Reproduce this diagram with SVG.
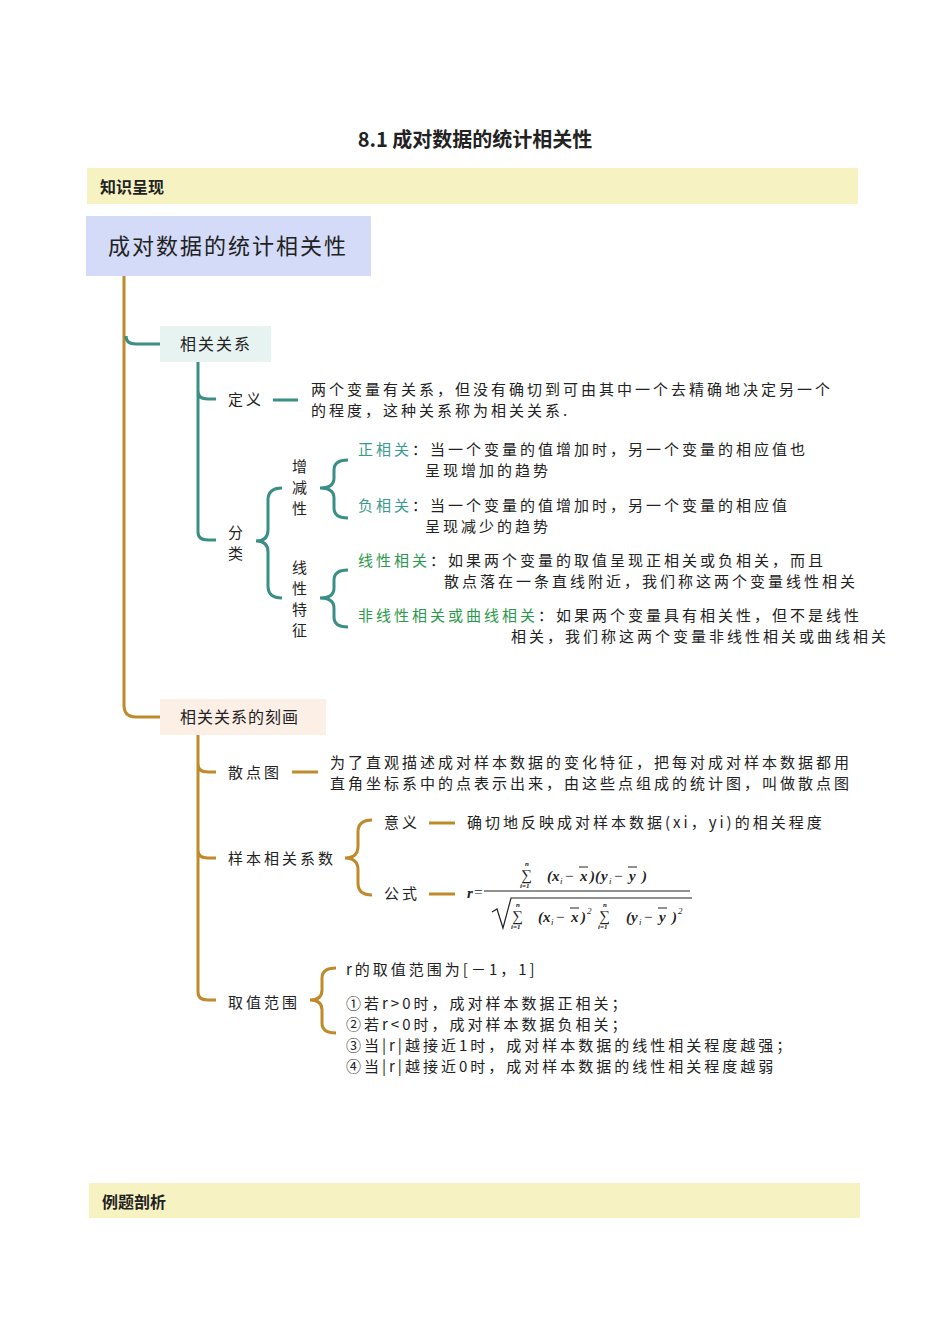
<svg xmlns="http://www.w3.org/2000/svg" width="950" height="1344" viewBox="0 0 950 1344">
<style>
text{font-family:"Noto Sans CJK SC","Noto Sans",sans-serif;fill:#222;}
.t{font-size:15px;letter-spacing:3px;}
.bar{fill:#f7f2c2;}
.teal{stroke:#3a8f85;stroke-width:3;fill:none;}
.gold{stroke:#bf8a2a;stroke-width:3;fill:none;}
.tl{fill:#3a9a8d;}
.gr{fill:#2a9a4a;}
.m{font-family:"Liberation Serif",serif;font-style:italic;font-weight:bold;font-size:15px;}
.mi{font-family:"Liberation Serif",serif;font-style:italic;font-size:9px;}
.ms{font-family:"Liberation Serif",serif;font-style:italic;font-weight:bold;font-size:7px;}
.sg{font-family:"Liberation Serif",serif;font-size:15px;}
.ol{stroke:#222;stroke-width:1;}
</style>
<rect width="950" height="1344" fill="#fff"/>
<text x="475" y="147" text-anchor="middle" font-size="20" font-weight="bold">8.1 成对数据的统计相关性</text>
<g id="bar1"><rect class="bar" x="87" y="168" width="771" height="36"/><text x="100" y="193" font-size="16" font-weight="bold">知识呈现</text></g>
<g id="connectors">
<path class="gold" d="M124 276 V705 Q124 717 136 717 H160"/>
<path class="teal" d="M126 336 Q126 344 136 344 H160" stroke-width="2.5"/>
<path class="teal" d="M198 362 V391 Q198 399 208 399 H216 M198 391 V532 Q198 540 208 540 H216"/>
<path class="teal" d="M273 400 H298"/>
<path class="teal" d="M282 488 Q268 488 268 500 V530 Q268 541 256 541 Q268 541 268 552 V586 Q268 598 282 598"/>
<path class="teal" d="M348 460 Q334 460 334 470 V478 Q334 488 320 488 Q334 488 334 498 V508 Q334 518 348 518"/>
<path class="teal" d="M348 570 Q334 570 334 580 V588 Q334 598 320 598 Q334 598 334 608 V617 Q334 627 348 627"/>
<path class="gold" d="M198 735 V764 Q198 772 208 772 H216 M198 764 V850 Q198 858 208 858 H216 M198 850 V992 Q198 1000 208 1000 H216"/>
<path class="gold" d="M292 772 H318"/>
<path class="gold" d="M372 820 Q358 820 358 832 V846 Q358 858 345 858 Q358 858 358 870 V883 Q358 895 372 895"/>
<path class="gold" d="M429 823 H455 M429 894 H455"/>
<path class="gold" d="M336 968 Q322 968 322 978 V990 Q322 1000 310 1000 Q322 1000 322 1010 V1023 Q322 1033 336 1033"/>
</g>
<g id="root"><rect x="86" y="216" width="285" height="60" fill="#d4dbf8"/><text x="108" y="254" font-size="22" letter-spacing="2">成对数据的统计相关性</text></g>
<g id="n1"><rect x="160" y="326" width="111" height="36" fill="#e6f3f1"/><text x="180" y="350" font-size="16" letter-spacing="2">相关关系</text></g>
<g id="def"><text class="t" x="228" y="405">定义</text>
<text class="t" x="311" y="395">两个变量有关系，但没有确切到可由其中一个去精确地决定另一个</text>
<text class="t" x="311" y="416">的程度，这种关系称为相关关系.</text></g>
<g id="cls"><text class="t" x="228" y="538">分</text><text class="t" x="228" y="559">类</text></g>
<g id="zjx"><text class="t" x="292" y="472">增</text><text class="t" x="292" y="493">减</text><text class="t" x="292" y="514">性</text></g>
<g id="xxtz"><text class="t" x="292" y="573">线</text><text class="t" x="292" y="594">性</text><text class="t" x="292" y="615">特</text><text class="t" x="292" y="636">征</text></g>
<g id="pos"><text class="t" x="358" y="455"><tspan class="tl">正相关</tspan>：当一个变量的值增加时，另一个变量的相应值也</text><text class="t" x="425" y="476">呈现增加的趋势</text></g>
<g id="neg"><text class="t" x="358" y="511"><tspan class="tl">负相关</tspan>：当一个变量的值增加时，另一个变量的相应值</text><text class="t" x="425" y="532">呈现减少的趋势</text></g>
<g id="lin"><text class="t" x="358" y="566"><tspan class="gr">线性相关</tspan>：如果两个变量的取值呈现正相关或负相关，而且</text><text class="t" x="444" y="587">散点落在一条直线附近，我们称这两个变量线性相关</text></g>
<g id="nonlin"><text class="t" x="358" y="621"><tspan class="gr">非线性相关或曲线相关</tspan>：如果两个变量具有相关性，但不是线性</text><text class="t" x="511" y="642">相关，我们称这两个变量非线性相关或曲线相关</text></g>
<g id="n2"><rect x="160" y="699" width="166" height="36" fill="#fcefe6"/><text x="180" y="723" font-size="16" letter-spacing="1">相关关系的刻画</text></g>
<g id="sdt"><text class="t" x="228" y="778">散点图</text>
<text class="t" x="330" y="768">为了直观描述成对样本数据的变化特征，把每对成对样本数据都用</text>
<text class="t" x="330" y="789">直角坐标系中的点表示出来，由这些点组成的统计图，叫做散点图</text></g>
<g id="ybxg"><text class="t" x="228" y="864">样本相关系数</text></g>
<g id="yy"><text class="t" x="384" y="828">意义</text><text class="t" x="467" y="828" letter-spacing="2">确切地反映成对样本数据(xi，yi)的相关程度</text></g>
<g id="gs"><text class="t" x="384" y="899">公式</text>
<text class="m" x="467" y="898">r</text><text class="sg" x="474" y="897">=</text>
<line x1="484" y1="891" x2="690" y2="891" stroke="#222" stroke-width="1"/>
<text class="ms" x="525" y="866">n</text><text class="sg" x="521" y="880">∑</text><text class="ms" x="520" y="888">i=1</text>
<text class="m" x="547" y="881">(</text><text class="m" x="552" y="881">x</text><text class="mi" x="560" y="884">i</text><text class="sg" x="565" y="881">−</text><text class="m" x="580" y="881">x</text><line class="ol" x1="579" y1="867" x2="588" y2="867"/><text class="m" x="590" y="881">)(</text><text class="m" x="601" y="881">y</text><text class="mi" x="609" y="884">i</text><text class="sg" x="614" y="881">−</text><text class="m" x="629" y="881">y</text><line class="ol" x1="628" y1="867" x2="637" y2="867"/><text class="m" x="642" y="881">)</text>
<path d="M492 912 L497 909 L503 928 L511 898 H692" stroke="#222" fill="none" stroke-width="1.2"/>
<text class="ms" x="516" y="907">n</text><text class="sg" x="512" y="921">∑</text><text class="ms" x="511" y="929">i=1</text>
<text class="m" x="538" y="922">(</text><text class="m" x="543" y="922">x</text><text class="mi" x="551" y="925">i</text><text class="sg" x="556" y="922">−</text><text class="m" x="571" y="922">x</text><line class="ol" x1="570" y1="908" x2="579" y2="908"/><text class="m" x="581" y="922">)</text><text class="mi" x="587" y="914">2</text>
<text class="ms" x="603" y="907">n</text><text class="sg" x="599" y="921">∑</text><text class="ms" x="598" y="929">i=1</text>
<text class="m" x="626" y="922">(</text><text class="m" x="631" y="922">y</text><text class="mi" x="639" y="925">i</text><text class="sg" x="644" y="922">−</text><text class="m" x="659" y="922">y</text><line class="ol" x1="658" y1="908" x2="667" y2="908"/><text class="m" x="672" y="922">)</text><text class="mi" x="678" y="914">2</text></g>
<g id="qzfw"><text class="t" x="228" y="1008">取值范围</text>
<text class="t" x="346" y="975" letter-spacing="2">r的取值范围为[－1，1]</text>
<text class="t" x="346" y="1009" letter-spacing="2">①若r&gt;0时，成对样本数据正相关；</text>
<text class="t" x="346" y="1030" letter-spacing="2">②若r&lt;0时，成对样本数据负相关；</text>
<text class="t" x="346" y="1051" letter-spacing="2">③当|r|越接近1时，成对样本数据的线性相关程度越强；</text>
<text class="t" x="346" y="1072" letter-spacing="2">④当|r|越接近0时，成对样本数据的线性相关程度越弱</text></g>
<g id="bar2"><rect class="bar" x="89" y="1183" width="771" height="35"/><text x="102" y="1208" font-size="16" font-weight="bold">例题剖析</text></g>
</svg>
